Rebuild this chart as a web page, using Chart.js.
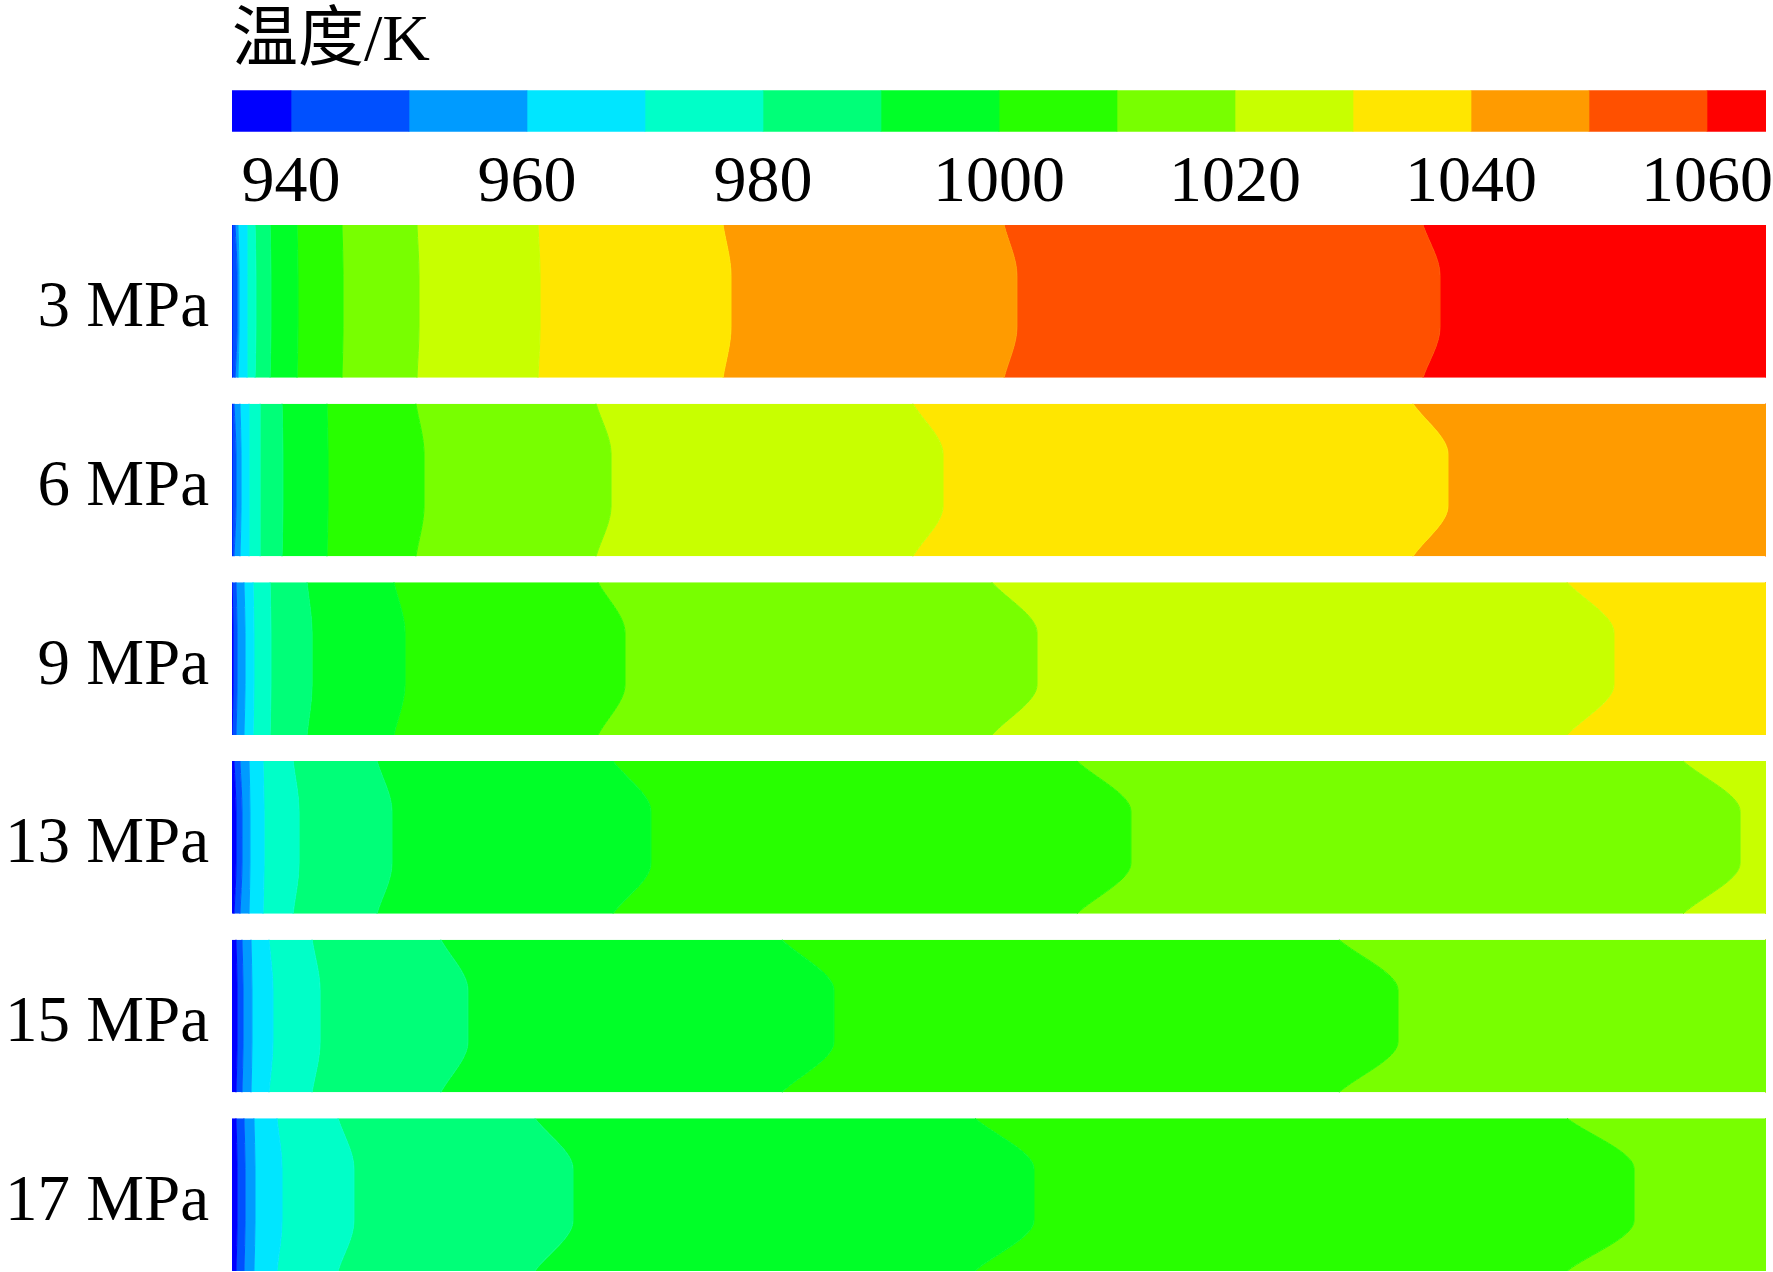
<!DOCTYPE html>
<html>
<head>
<meta charset="utf-8">
<script src="https://cdn.jsdelivr.net/npm/chart.js@4.4.1/dist/chart.umd.min.js"></script>
<style>
  html, body { margin: 0; padding: 0; background: #fff; }
  #wrap { position: relative; width: 1773px; height: 1272px; }
  #wrap canvas { position: absolute; left: 0; top: 0; }
</style>
</head>
<body>
<div id="wrap">
  <canvas id="fieldChart" width="1773" height="1272"></canvas>
  <canvas id="legendChart" width="1773" height="235"></canvas>
</div>
<script>
// rows, top to bottom
const pressures = ['3 MPa', '6 MPa', '9 MPa', '13 MPa', '15 MPa', '17 MPa'];

// contour levels (K) and colour bar
const levels = [940, 950, 960, 970, 980, 990, 1000, 1010, 1020, 1030, 1040, 1050, 1060];
const barRange = [935, 1065];
const tickLabels = [940, 960, 980, 1000, 1020, 1040, 1060];
const bandColors = [
  '#0000ff', '#0050ff', '#009bff', '#00e6ff', '#00ffc8', '#00ff78', '#00ff28',
  '#28ff00', '#78ff00', '#c8ff00', '#ffe600', '#ff9b00', '#ff5000', '#ff0000'
];

// where each level's contour sits, % of channel length: at the walls / on the centreline
const wall3  = [0, 0.20, 0.39, 0.98, 1.50, 2.48, 4.24, 7.17, 12.06, 19.95, 32.01, 50.33, 77.64];
const core3  = [0, 0.33, 0.46, 0.98, 1.56, 2.54, 4.30, 7.24, 12.19, 20.08, 32.53, 51.17, 78.75];
const wall6  = [0, 0.13, 0.52, 1.11, 1.83, 3.26, 6.19, 11.99, 23.73, 44.39, 76.99, 100, 100];
const core6  = [0, 0.26, 0.59, 1.11, 1.83, 3.32, 6.26, 12.52, 24.71, 46.35, 79.27, 100, 100];
const wall9  = [0, 0.26, 0.78, 1.37, 2.48, 4.89, 10.56, 23.86, 49.54, 87.03, 100, 100, 100];
const core9  = [0.07, 0.33, 0.85, 1.43, 2.54, 5.22, 11.28, 25.62, 52.48, 90.09, 100, 100, 100];
const wall13 = [0.13, 0.52, 1.11, 2.02, 3.98, 9.45, 24.84, 55.08, 94.59, 100, 100, 100, 100];
const core13 = [0.26, 0.65, 1.17, 2.09, 4.37, 10.43, 27.31, 58.60, 98.31, 100, 100, 100, 100];
const wall15 = [0.26, 0.65, 1.24, 2.41, 5.22, 13.62, 35.85, 72.16, 100, 100, 100, 100, 100];
const core15 = [0.33, 0.72, 1.30, 2.67, 5.74, 15.38, 39.24, 76.01, 100, 100, 100, 100, 100];
const wall17 = [0.26, 0.78, 1.43, 2.93, 6.91, 19.75, 48.44, 87.03, 100, 100, 100, 100, 100];
const core17 = [0.33, 0.85, 1.50, 3.26, 7.95, 22.23, 52.28, 91.40, 100, 100, 100, 100, 100];

const walls = [wall3, wall6, wall9, wall13, wall15, wall17];
const cores = [core3, core6, core9, core13, core15, core17];

Chart.defaults.font.family = '"Liberation Serif", "Noto Sans CJK SC", serif';
Chart.defaults.color = '#000';

// ---- contour strips ----
const halfH = 0.4273;          // half strip height, in row units
const plateau = [0.33, 0.67];  // contour reaches its centreline position between these fractions

const fieldSets = [];
pressures.forEach((p, s) => {
  const top = s - halfH, h = 2 * halfH;
  const lines = [[0, 0]].concat(levels.map((lv, k) => [walls[s][k], cores[s][k]]), [[100, 100]]);
  lines.forEach(([w, c], j) => {
    const col = j ? bandColors[j - 1] : 'rgba(0,0,0,0)';
    fieldSets.push({
      data: [
        { x: w, y: top },
        { x: c, y: top + plateau[0] * h },
        { x: c, y: top + plateau[1] * h },
        { x: w, y: top + h }
      ],
      fill: j === 0 ? false : '-1',
      backgroundColor: col,
      borderColor: col,
      borderWidth: j ? 1 : 0,
      pointRadius: 0,
      cubicInterpolationMode: 'monotone'
    });
  });
});

new Chart(document.getElementById('fieldChart'), {
  type: 'line',
  data: { datasets: fieldSets },
  options: {
    indexAxis: 'y',
    responsive: false,
    animation: false,
    events: [],
    layout: { padding: { left: 0, right: 7, top: 225, bottom: 1 } },
    plugins: { legend: { display: false }, tooltip: { enabled: false } },
    scales: {
      x: { type: 'linear', min: 0, max: 100, display: false },
      y: {
        type: 'linear',
        reverse: true,
        min: -halfH,
        max: pressures.length - 1 + halfH,
        afterBuildTicks: ax => { ax.ticks = pressures.map((p, i) => ({ value: i })); },
        afterFit: ax => { ax.width = 232; ax.paddingTop = 0; ax.paddingBottom = 0; },
        ticks: {
          // empty first line nudges the label a little below the row centre, as in the original
          callback: v => ['', pressures[v]],
          font: { size: 65, lineHeight: '16px' },
          color: '#000',
          padding: 23,
          autoSkip: false
        },
        grid: { display: false, drawTicks: false },
        border: { display: false }
      }
    }
  }
});

// ---- colour bar ----
const barEdges = [barRange[0]].concat(levels, [barRange[1]]);

new Chart(document.getElementById('legendChart'), {
  type: 'bar',
  data: {
    labels: [''],
    datasets: bandColors.map((c, i) => ({
      data: [[barEdges[i], barEdges[i + 1]]],
      backgroundColor: c,
      borderWidth: 0,
      barPercentage: 1,
      categoryPercentage: 1,
      grouped: false
    }))
  },
  options: {
    indexAxis: 'y',
    responsive: false,
    animation: false,
    events: [],
    layout: { padding: { left: 232, right: 7, top: 0, bottom: 0 } },
    plugins: {
      legend: { display: false },
      tooltip: { enabled: false },
      title: {
        display: true,
        text: '温度/K',
        align: 'start',
        color: '#000',
        font: { size: 66, weight: 'normal' },
        padding: { top: 3, bottom: 8 }
      }
    },
    scales: {
      x: {
        type: 'linear',
        min: barRange[0],
        max: barRange[1],
        afterBuildTicks: ax => { ax.ticks = tickLabels.map(v => ({ value: v })); },
        afterFit: ax => { ax.paddingLeft = 0; ax.paddingRight = 0; },
        ticks: {
          callback: v => String(v),
          font: { size: 66 },
          color: '#000',
          padding: 12,
          autoSkip: false,
          maxRotation: 0
        },
        grid: { display: false, drawTicks: false },
        border: { display: false }
      },
      y: { display: false }
    }
  }
});
</script>
</body>
</html>
